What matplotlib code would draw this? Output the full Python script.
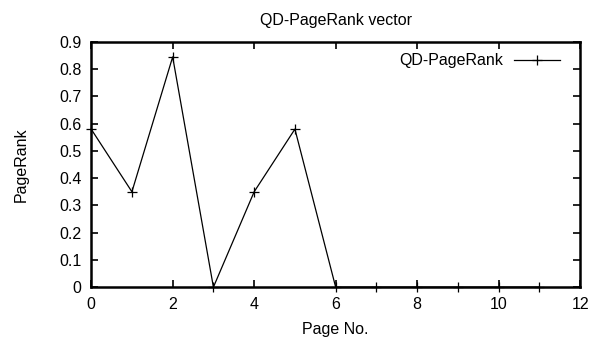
import matplotlib
matplotlib.use('Agg')
from matplotlib import pyplot as plt

# datos
paginas = [0, 1, 2, 3, 4, 5, 6, 7, 8, 9, 10, 11]
pagerank = [0.58, 0.35, 0.845, 0.0, 0.35, 0.58, 0.0, 0.0, 0.0, 0.0, 0.0, 0.0]
xticks = [0, 2, 4, 6, 8, 10, 12]
yticks = [0, 0.1, 0.2, 0.3, 0.4, 0.5, 0.6, 0.7, 0.8, 0.9]

plt.rcParams['font.family'] = ['Liberation Sans', 'DejaVu Sans']
plt.rcParams['font.size'] = 11.5

fig = plt.figure(figsize=(5.92, 3.41), dpi=100)
ax = fig.add_axes([0.154, 0.158, 0.826, 0.719])

ax.plot(paginas, pagerank, color='black', linewidth=0.9, marker='+',
        markersize=7, markeredgewidth=0.9, label='QD-PageRank', clip_on=False)

ax.set_xlim(0, 12)
ax.set_ylim(0, 0.9)
ax.set_xticks(xticks)
ax.set_yticks(yticks)
ax.set_yticklabels(['0' if v == 0 else '%.1f' % v for v in yticks])
ax.tick_params(direction='in', top=True, right=True, length=5, width=1.2, pad=7)
for s in ax.spines.values():
    s.set_linewidth(1.8)

ax.set_title('QD-PageRank vector', fontsize=11.5, pad=12)
ax.set_xlabel('Page No.', labelpad=7)
ax.set_ylabel('PageRank', labelpad=22)

leg = ax.legend(loc='upper right', frameon=False, markerfirst=False,
                handlelength=2.9, borderaxespad=0.3, handletextpad=0.7,
                bbox_to_anchor=(0.982, 1.0))

fig.savefig('out.png', dpi=100)
